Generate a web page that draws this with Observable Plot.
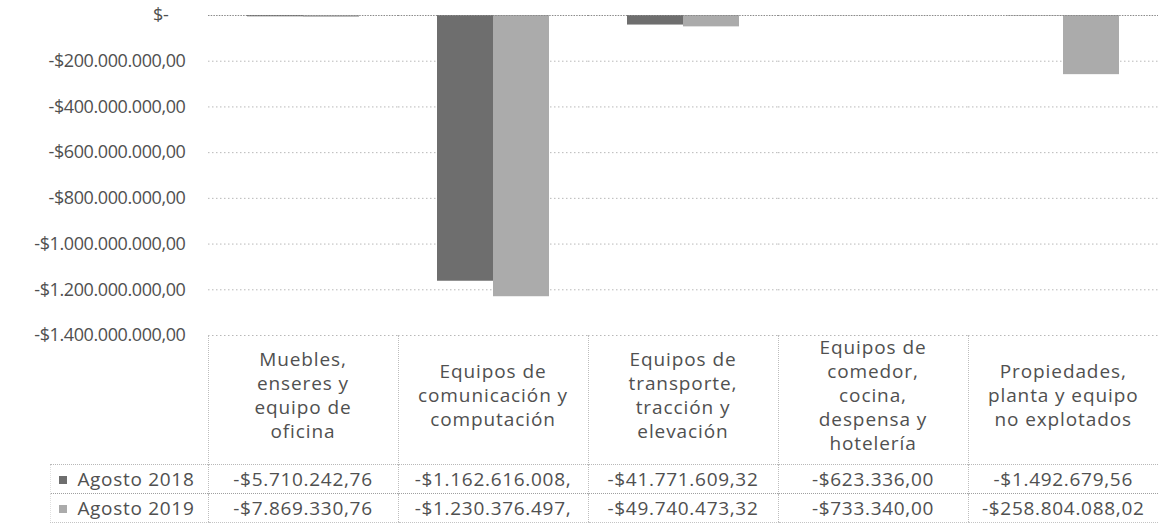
<!DOCTYPE html>
<html>
<head>
<meta charset="utf-8">
<script src="https://cdn.jsdelivr.net/npm/d3@7"></script>
<script src="https://cdn.jsdelivr.net/npm/@observablehq/plot@0.6"></script>
<style>
  html, body { margin: 0; padding: 0; background: #fff; }
  #wrap { position: relative; width: 1158px; height: 527px; overflow: hidden;
          font-family: "Open Sans", sans-serif; color: #505050; }
  #wrap svg { position: absolute; left: 0; top: 0; }
  table.dt { position: absolute; left: 0; top: 335px; width: 1158px;
             border-collapse: collapse; table-layout: fixed; font-size: 19px; letter-spacing: 0.7px;
             font-family: "Open Sans", sans-serif; color: #505050; }
  table.dt td { padding: 0; text-align: center; white-space: nowrap; overflow: hidden; }
  table.dt tr.head td { height: 129px; vertical-align: middle; line-height: 24px; letter-spacing: 0.9px;
                        white-space: pre-line; padding-bottom: 8px; box-sizing: border-box; }
  table.dt tr.head td.cat { border-left: 1px dotted #bdbdbd; }
  table.dt tr.r1 td { height: 28px; border-top: 1px dotted #b8b8b8; }
  table.dt tr.r2 td { height: 28px; border-top: 1px dotted #a0a0a0; border-bottom: 1px dotted #c4c4c4; }
  table.dt tr.r1 td.sp, table.dt tr.r2 td.sp { border-top: none; border-bottom: none; }
  table.dt td.val { border-left: 1px dotted #bdbdbd; }
  table.dt td.leg { text-align: right; padding-right: 13px; border-left: 1px dotted #e0e0e0; }
  .sw { display: inline-block; width: 8px; height: 8px; margin-right: 10px; vertical-align: 2px; }
</style>
</head>
<body>
<div id="wrap"></div>
<script>
// ---- data ----
const categories = [
  "Muebles, enseres y equipo de oficina",
  "Equipos de comunicación y computación",
  "Equipos de transporte, tracción y elevación",
  "Equipos de comedor, cocina, despensa y hotelería",
  "Propiedades, planta y equipo no explotados"
];
const categoryLines = [
  "Muebles,\nenseres y\nequipo de\noficina",
  "Equipos de\ncomunicación y\ncomputación",
  "Equipos de\ntransporte,\ntracción y\nelevación",
  "Equipos de\ncomedor,\ncocina,\ndespensa y\nhotelería",
  "Propiedades,\nplanta y equipo\nno explotados"
];
const series = ["Agosto 2018", "Agosto 2019"];
const values2018 = [-5710242.76, -1162616008, -41771609.32, -623336.00, -1492679.56];
const values2019 = [-7869330.76, -1230376497, -49740473.32, -733340.00, -258804088.02];
const tableText2018 = ["-$5.710.242,76", "-$1.162.616.008,", "-$41.771.609,32", "-$623.336,00", "-$1.492.679,56"];
const tableText2019 = ["-$7.869.330,76", "-$1.230.376.497,", "-$49.740.473,32", "-$733.340,00", "-$258.804.088,02"];
const yTicks = [0, -200000000, -400000000, -600000000, -800000000, -1000000000, -1200000000, -1400000000];
const seriesColors = ["#6e6e6e", "#ababab"];

// ---- build ----
const data = [];
categories.forEach((c, i) => {
  data.push({category: c, series: series[0], value: values2018[i]});
  data.push({category: c, series: series[1], value: values2019[i]});
});

const loc = d3.formatLocale({decimal: ",", thousands: ".", grouping: [3], currency: ["$", ""], minus: "-"});
const fmtMoney = loc.format("$,.2f");
const tickFmt = d => d === 0 ? "$-\u00a0\u00a0\u00a0\u00a0" : fmtMoney(d);

const chart = Plot.plot({
  width: 1158,
  height: 527,
  marginLeft: 208,
  marginRight: 0,
  marginTop: 15,
  marginBottom: 192,
  style: {fontFamily: "Open Sans, sans-serif", fontSize: "18px", color: "#505050", background: "transparent", overflow: "visible", letterSpacing: "-0.4px"},
  fx: {domain: categories, padding: 0, axis: null},
  x: {domain: series, paddingInner: 0, paddingOuter: 0.696, axis: null},
  y: {domain: [-1400000000, 0], axis: null},
  color: {domain: series, range: seriesColors},
  marks: [
    Plot.ruleY(yTicks.filter(d => d !== 0), {stroke: "#b8b8b8", strokeDasharray: "1.5,2.5"}),
    Plot.barY(data, {fx: "category", x: "series", y: "value", fill: "series"}),
    Plot.ruleY([0], {stroke: "#8a8a8a", strokeDasharray: "1.5,1.2"}),
    Plot.axisY({ticks: yTicks, tickSize: 0, tickPadding: 23, tickFormat: tickFmt, label: null, fill: "#505050"})
  ]
});

const wrap = document.getElementById("wrap");
wrap.appendChild(chart);

// data table below the plot
const table = d3.select(wrap).append("table").attr("class", "dt");
const cg = table.append("colgroup");
cg.append("col").style("width", "50px");
cg.append("col").style("width", "158px");
categories.forEach(() => cg.append("col").style("width", "190px"));

const head = table.append("tr").attr("class", "head");
head.append("td").attr("class", "sp");
head.append("td");
categoryLines.forEach(t => head.append("td").attr("class", "cat").text(t));

[[tableText2018, "r1"], [tableText2019, "r2"]].forEach(([texts, cls], si) => {
  const tr = table.append("tr").attr("class", cls);
  tr.append("td").attr("class", "sp");
  const leg = tr.append("td").attr("class", "leg");
  leg.append("span").attr("class", "sw").style("background", seriesColors[si]);
  leg.append("span").text(series[si]);
  texts.forEach(t => tr.append("td").attr("class", "val").text(t));
});
</script>
</body>
</html>
